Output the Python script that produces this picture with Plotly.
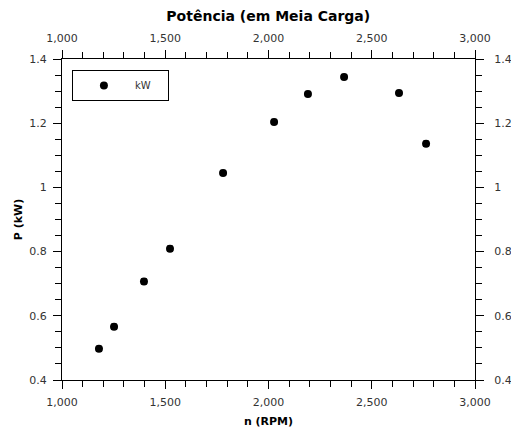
import plotly.graph_objects as go

rpm = [1179, 1252, 1397, 1523, 1780, 2027, 2191, 2366, 2632, 2763]
power_kw = [0.497, 0.566, 0.707, 0.809, 1.045, 1.204, 1.291, 1.344, 1.294, 1.136]
err_kw = [0.008, 0.008, 0.008, 0.008, 0.008, 0.008, 0.008, 0.008, 0.008, 0.008]

x_range = [1000, 3000]
y_range = [0.4, 1.4]

fig = go.Figure()
fig.add_trace(go.Scatter(
    x=rpm, y=power_kw, mode="markers", name="kW",
    marker=dict(color="black", size=8, symbol="circle"),
    error_y=dict(type="data", array=err_kw, color="black", thickness=1, width=3),
))
# invisible trace for secondary axes
fig.add_trace(go.Scatter(x=x_range, y=y_range, xaxis="x2", yaxis="y2",
                         mode="markers", marker=dict(opacity=0), showlegend=False,
                         hoverinfo="skip"))

font_tick = dict(family="DejaVu Sans", size=11, color="#333")
common = dict(showline=True, linecolor="black", linewidth=1, mirror=False,
              ticks="outside", ticklen=8, tickcolor="black", showgrid=False,
              zeroline=False, tickfont=font_tick, automargin=False)

fig.update_layout(
    width=511, height=428,
    margin=dict(l=62, r=36, t=59, b=48),
    plot_bgcolor="white", paper_bgcolor="white",
    title=dict(text="<b>Potência (em Meia Carga)</b>", x=0.525, xanchor="center",
               y=0.962, yanchor="middle",
               font=dict(family="DejaVu Sans", size=14, color="black")),
    xaxis=dict(range=x_range, dtick=500, tickformat=",d", ticklabelstandoff=4,
               minor=dict(dtick=100, ticks="outside", ticklen=6, tickcolor="black"),
               title=dict(text="<b>n (RPM)</b>", standoff=10,
                          font=dict(family="DejaVu Sans", size=11, color="black")),
               **common),
    yaxis=dict(range=y_range, dtick=0.2, ticklabelstandoff=4,
               minor=dict(dtick=0.05, ticks="outside", ticklen=6, tickcolor="black"),
               title=dict(text="<b>P (kW)</b>", standoff=4,
                          font=dict(family="DejaVu Sans", size=11, color="black")),
               **common),
    xaxis2=dict(range=x_range, dtick=500, tickformat=",d", overlaying="x", side="top",
                ticklabelstandoff=4,
                minor=dict(dtick=100, ticks="outside", ticklen=6, tickcolor="black"),
                **common),
    yaxis2=dict(range=y_range, dtick=0.2, overlaying="y", side="right",
                ticklabelstandoff=8,
                minor=dict(dtick=0.05, ticks="outside", ticklen=6, tickcolor="black"),
                **common),
    showlegend=True,
    legend=dict(x=0.024, y=0.966, xanchor="left", yanchor="top",
                orientation="h",
                bordercolor="black", borderwidth=1, bgcolor="white",
                font=dict(family="DejaVu Sans", size=10, color="#333"),
                itemwidth=52, entrywidth=28, tracegroupgap=0),
)

fig.write_html("out.html")
